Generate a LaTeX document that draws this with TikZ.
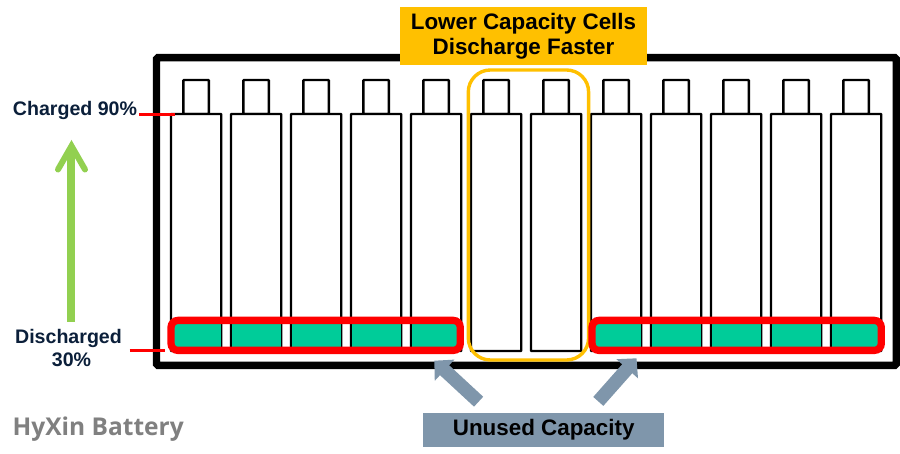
\documentclass[tikz,border=0pt]{standalone}
\usepackage{fontspec}
\setmainfont{Liberation Sans}
\newfontfamily\brandfont{Open Sans}
\usetikzlibrary{arrows.meta,positioning}
\definecolor{amberc}{HTML}{FFC000}
\definecolor{slatec}{HTML}{7F96AB}
\definecolor{mintc}{HTML}{00CC99}
\definecolor{limec}{HTML}{92D050}
\definecolor{inkc}{HTML}{0B1F3A}
\tikzset{
  px/.style={x=1pt,y=-1pt},
  framebox/.style={draw=black,line width=7.4pt,rounded corners=1.5pt},
  cellbody/.style={draw=black,line width=2.3pt,fill=white,rounded corners=0.6pt,minimum width=50.3pt,minimum height=237pt,inner sep=0pt,outer sep=0pt,anchor=north west},
  cellcap/.style={draw=black,line width=2.3pt,fill=white,rounded corners=0.6pt,minimum width=25.5pt,minimum height=34pt,inner sep=0pt,outer sep=0pt,anchor=south},
  charge/.style={fill=mintc,inner sep=0pt,outer sep=0pt,minimum width=49.3pt,minimum height=23pt,anchor=north west},
  redgroup/.style={draw=red,line width=7.3pt,rounded corners=7pt},
  ambergroup/.style={draw=amberc,line width=3.4pt,rounded corners=22pt},
  redtick/.style={draw=red,line width=3pt},
  bluearrow/.style={draw=slatec,line width=13.5pt,-{Triangle[length=14pt,width=28pt]}},
  levelshaft/.style={draw=limec,line width=7.4pt},
  levelhead/.style={draw=limec,line width=6pt,line cap=round,line join=miter,miter limit=10},
  lbl/.style={font=\bfseries\fontsize{19.6}{22.5}\selectfont,text=inkc,align=center,inner sep=0pt},
  titlebox/.style={fill=amberc,text=black,font=\bfseries\fontsize{22.4}{25}\selectfont,align=center,minimum width=247pt,minimum height=58pt,inner sep=0pt},
  capbox/.style={fill=slatec,text=black,font=\bfseries\fontsize{22.4}{26}\selectfont,minimum width=241pt,minimum height=34pt,inner sep=0pt},
  brand/.style={font=\brandfont\bfseries\fontsize{24.5}{28}\selectfont,text=black!50,inner sep=0pt}
}
\begin{document}
\begin{tikzpicture}[px]
\useasboundingbox (0,0) rectangle (900,454);
\fill[white] (0,0) rectangle (900,454);
\draw[framebox] (156.5,57.6) rectangle (896.3,365.4);
\foreach \i in {0,...,11}{
  \pgfmathsetmacro{\xx}{171+60*\i}
  \node[cellcap] (cap\i) at (\xx+25.1,114) {};
  \node[cellbody] (cell\i) at (\xx,114) {};
  \ifnum\i=5\relax\else\ifnum\i=6\relax\else
    \node[charge] (chg\i) at (\xx+0.5,324) {};
  \fi\fi
}
\draw[ambergroup] (468.3,70) rectangle (588.6,360);
\draw[redgroup] (171,320.4) rectangle (460.3,350.4);
\draw[redgroup] (592,320.4) rectangle (881.3,350.4);
\node[titlebox] (title) at (523.5,36.4) {Lower Capacity Cells\\Discharge Faster};
\node[capbox] (unused) at (543.7,429.7) {Unused Capacity};
\coordinate (la0) at (478.6,401.7);
\coordinate (la1) at (434.3,360.7);
\coordinate (ra0) at (598.3,401.4);
\coordinate (ra1) at (636.5,358.3);
\draw[bluearrow] (la0) -- (la1);
\draw[bluearrow] (ra0) -- (ra1);
\node[lbl] (ch) at (75,110.3) {Charged 90\%};
\node[lbl,align=center] (dis) at (68.5,347.8) {Discharged\\\hspace{6pt}30\%};
\coordinate (g0) at (71,322);
\coordinate (g1) at (71,150);
\coordinate (gl) at (58,169.5);
\coordinate (gt) at (71.5,146);
\coordinate (gr) at (85,169.5);
\draw[levelshaft] (g0) -- (g1);
\draw[levelhead] (gl) -- (gt) -- (gr);
\coordinate (t0) at (139,114.3);
\coordinate (t1) at (175,114.3);
\coordinate (b0) at (129.6,350.3);
\coordinate (b1) at (165,350.3);
\draw[redtick] (t0) -- (t1);
\draw[redtick] (b0) -- (b1);
\node[brand,anchor=west] (hy) at (12.5,429) {HyXin Battery};
\end{tikzpicture}
\end{document}
